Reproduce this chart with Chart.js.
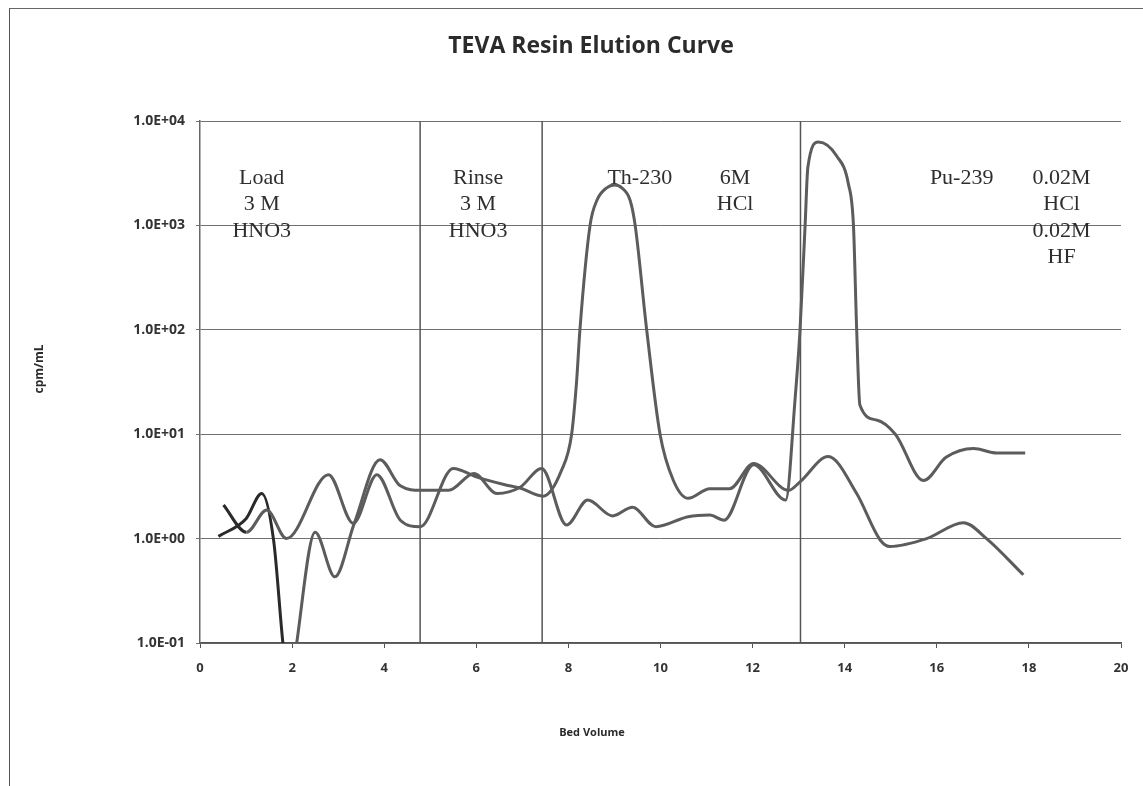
<!DOCTYPE html>
<html>
<head>
<meta charset="utf-8">
<title>TEVA Resin Elution Curve</title>
<script src="https://cdn.jsdelivr.net/npm/chart.js@4.4.1/dist/chart.umd.min.js"></script>
<style>
    body { margin: 0; background: #fff; overflow: hidden; }
    .wrap { position: relative; width: 1143px; height: 786px; }
    .frame {
        position: absolute; left: 9px; top: 8px; right: 0; bottom: 0;
        border-left: 1.5px solid #555; border-top: 1.5px solid #666;
        pointer-events: none;
    }
    canvas { position: absolute; left: 0; top: 0; }
</style>
</head>
<body>
<div class="wrap">
    <canvas id="elutionChart" width="1143" height="786"></canvas>
    <div class="frame"></div>
</div>
<script>
// Th-230 curve (bed volume, cpm/mL)
const thX = [0.51, 1.01, 1.45, 1.88, 2.79, 3.33, 3.84, 4.35, 4.78, 5.5, 6.0, 6.6, 6.95, 7.45,
    7.85, 8.07, 8.18, 8.25, 8.47, 8.62, 8.83, 9.0, 9.16, 9.34, 9.45, 9.7, 9.99, 10.28, 10.6,
    11.07, 11.5, 12.02, 12.78, 13.03, 13.64, 14.26, 14.77, 14.98, 15.78, 16.58, 17.08, 17.88];
const thY = [2.1, 1.15, 1.88, 1.0, 4.1, 1.4, 4.1, 1.5, 1.3, 4.7, 3.9, 3.3, 3.05, 2.55,
    4.5, 10, 33, 100, 1000, 1740, 2290, 2440, 2290, 1740, 1000, 100, 10, 3.6, 2.43,
    3.0, 3.0, 5.25, 2.9, 3.5, 6.1, 2.7, 0.97, 0.84, 1.0, 1.42, 1.0, 0.45];

// Pu-239 curve
const puX = [0.4, 1.0, 1.34, 1.6, 1.8, 1.95, 2.1, 2.5, 2.93, 3.35, 3.91, 4.35, 4.8, 5.4,
    5.95, 6.45, 6.95, 7.42, 7.96, 8.42, 8.96, 9.39, 9.9, 10.6, 11.07, 11.38, 12.02, 12.72,
    12.92, 13.03, 13.14, 13.2, 13.43, 13.83, 14.08, 14.19, 14.26, 14.33, 14.69, 15.1,
    15.71, 16.2, 16.8, 17.3, 17.92];
const puY = [1.05, 1.55, 2.7, 0.95, 0.1, 0.03, 0.1, 1.15, 0.43, 1.4, 5.7, 3.2, 2.9, 2.9,
    4.2, 2.7, 3.1, 4.7, 1.35, 2.34, 1.65, 2.0, 1.3, 1.62, 1.68, 1.5, 5.1, 2.34,
    21, 100, 1000, 3600, 6300, 4600, 2500, 1000, 100, 19, 13.7, 10,
    3.6, 6.0, 7.3, 6.6, 6.6];

// step boundaries (bed volume)
const dividerX = [4.78, 7.43, 13.04];

// y axis ticks
const yTickValues = [0.1, 1, 10, 100, 1000, 10000];
const yTickLabels = ['1.0E-01', '1.0E+00', '1.0E+01', '1.0E+02', '1.0E+03', '1.0E+04'];

// step notes: bed volume where each block is centred, and its lines
const noteX = [1.34, 6.04, 9.55, 11.62, 16.54, 18.71];
const noteLines = [
    ['Load', '3 M', 'HNO3'],
    ['Rinse', '3 M', 'HNO3'],
    ['Th-230'],
    ['6M', 'HCl'],
    ['Pu-239'],
    ['0.02M', 'HCl', '0.02M', 'HF']
];
const noteTop = 2500; // cpm/mL level of the first text baseline

const gray = '#5c5c5c';
const dark = '#2a2a2a';

function toPoints(xs, ys) {
    return xs.map((x, i) => ({ x: x, y: ys[i] }));
}

const curveStyle = {
    borderWidth: 3,
    pointRadius: 0,
    fill: false,
    cubicInterpolationMode: 'monotone'
};

const datasets = [
    Object.assign({
        label: 'Th-230',
        data: toPoints(thX, thY),
        borderColor: gray,
        segment: { borderColor: c => c.p0DataIndex < 1 ? dark : gray }
    }, curveStyle),
    Object.assign({
        label: 'Pu-239',
        data: toPoints(puX, puY),
        borderColor: gray,
        segment: { borderColor: c => c.p0DataIndex < 5 ? dark : gray }
    }, curveStyle)
];

dividerX.forEach(v => {
    datasets.push({
        label: 'divider',
        data: [{ x: v, y: yTickValues[0] }, { x: v, y: yTickValues[yTickValues.length - 1] }],
        borderColor: '#555',
        borderWidth: 1.5,
        pointRadius: 0,
        tension: 0
    });
});

// text drawn on the chart: step notes and titles
const notesPlugin = {
    id: 'notes',
    afterDatasetsDraw(chart) {
        const ctx = chart.ctx;
        const xs = chart.scales.x;
        const ys = chart.scales.y;
        ctx.save();
        ctx.fillStyle = '#2e2e2e';
        ctx.textAlign = 'center';
        ctx.textBaseline = 'alphabetic';
        ctx.font = '22px "Liberation Serif", "Times New Roman", serif';
        const top = ys.getPixelForValue(noteTop);
        noteX.forEach((nx, i) => {
            const px = xs.getPixelForValue(nx);
            noteLines[i].forEach((t, j) => ctx.fillText(t, px, top + j * 26.5));
        });

        ctx.textBaseline = 'middle';
        ctx.fillStyle = '#2b2b2b';
        ctx.font = 'bold 23px "Open Sans", sans-serif';
        ctx.fillText('TEVA Resin Elution Curve', 591, 46);

        ctx.font = 'bold 11px "Open Sans", sans-serif';
        ctx.fillText('Bed Volume', 592, 733);

        ctx.font = 'bold 12px "Open Sans", sans-serif';
        ctx.translate(40, 369);
        ctx.rotate(-Math.PI / 2);
        ctx.fillText('cpm/mL', 0, 0);
        ctx.restore();
    }
};

const tickFont = { family: "'Open Sans', sans-serif", size: 14, weight: 'bold' };

new Chart(document.getElementById('elutionChart').getContext('2d'), {
    type: 'line',
    data: { datasets: datasets },
    options: {
        responsive: false,
        animation: false,
        devicePixelRatio: 1,
        layout: { padding: { top: 121, right: 22, bottom: 0, left: 0 } },
        plugins: {
            legend: { display: false },
            title: { display: false },
            tooltip: { enabled: false }
        },
        scales: {
            x: {
                type: 'linear',
                min: 0,
                max: 20,
                afterFit: scale => { scale.height = 143; },
                ticks: { stepSize: 2, color: '#333', font: { family: "'Open Sans', sans-serif", size: 13, weight: 'bold' }, padding: 12 },
                grid: { drawOnChartArea: false, drawTicks: true, tickLength: 5, color: '#555' },
                border: { display: true, color: '#555', width: 1.5 }
            },
            y: {
                type: 'logarithmic',
                min: 0.1,
                max: 10000,
                afterFit: scale => { scale.width = 200; },
                afterBuildTicks: scale => {
                    scale.ticks = yTickValues.map(v => ({ value: v }));
                },
                ticks: {
                    color: '#333',
                    font: tickFont,
                    padding: 11,
                    callback: (v, i) => yTickLabels[i]
                },
                grid: { color: '#707070', lineWidth: 1, tickLength: 4 },
                border: { display: true, color: '#666', width: 1.5 }
            }
        }
    },
    plugins: [notesPlugin]
});
</script>
</body>
</html>
